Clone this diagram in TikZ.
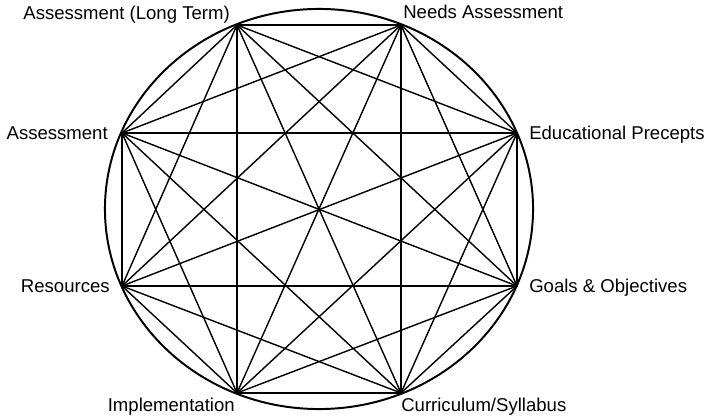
\documentclass[tikz,border=0pt]{standalone}
\usepackage{fontspec}
\setmainfont{Liberation Sans}

\tikzset{
  lbl/.style={inner sep=0pt, font=\fontsize{13.2}{15}\selectfont},
  chord/.style={line width=1pt},
  rim/.style={line width=1.4pt}
}

\begin{document}
\begin{tikzpicture}[x=0.025cm, y=-0.025cm]
  \useasboundingbox (0,0) rectangle (712,419);
  % outer ring
  \draw[rim] (319,209) ellipse [x radius=5.35cm, y radius=5cm];
  % the eight stations
  \foreach \n/\px/\py in {lt/237/25, needs/401/25, prec/517/133, goals/517/286,
      curr/401/393, impl/237/393, res/122/286, assess/122/133}
    \coordinate (\n) at (\px,\py);
  % every station joined to every other one
  \foreach \a [count=\i] in {lt,needs,prec,goals,curr,impl,res,assess}
    \foreach \b [count=\j] in {lt,needs,prec,goals,curr,impl,res,assess}
    {
      \ifnum\i<\j \draw[chord, line cap=round] (\a) -- (\b); \fi
    }
  % labels
  \node[lbl, anchor=base east] (lt-l)     at (230,20)  {Assessment (Long Term)};
  \node[lbl, anchor=base west] (needs-l)  at (403,19)  {Needs Assessment};
  \node[lbl, anchor=base west] (prec-l)   at (529,140) {Educational Precepts};
  \node[lbl, anchor=base west] (goals-l)  at (529,293) {Goals \& Objectives};
  \node[lbl, anchor=base west] (curr-l)   at (401,412) {Curriculum/Syllabus};
  \node[lbl, anchor=base east] (impl-l)   at (235,412) {Implementation};
  \node[lbl, anchor=base east] (res-l)    at (110,293) {Resources};
  \node[lbl, anchor=base east] (assess-l) at (108,140) {Assessment};
\end{tikzpicture}
\end{document}
